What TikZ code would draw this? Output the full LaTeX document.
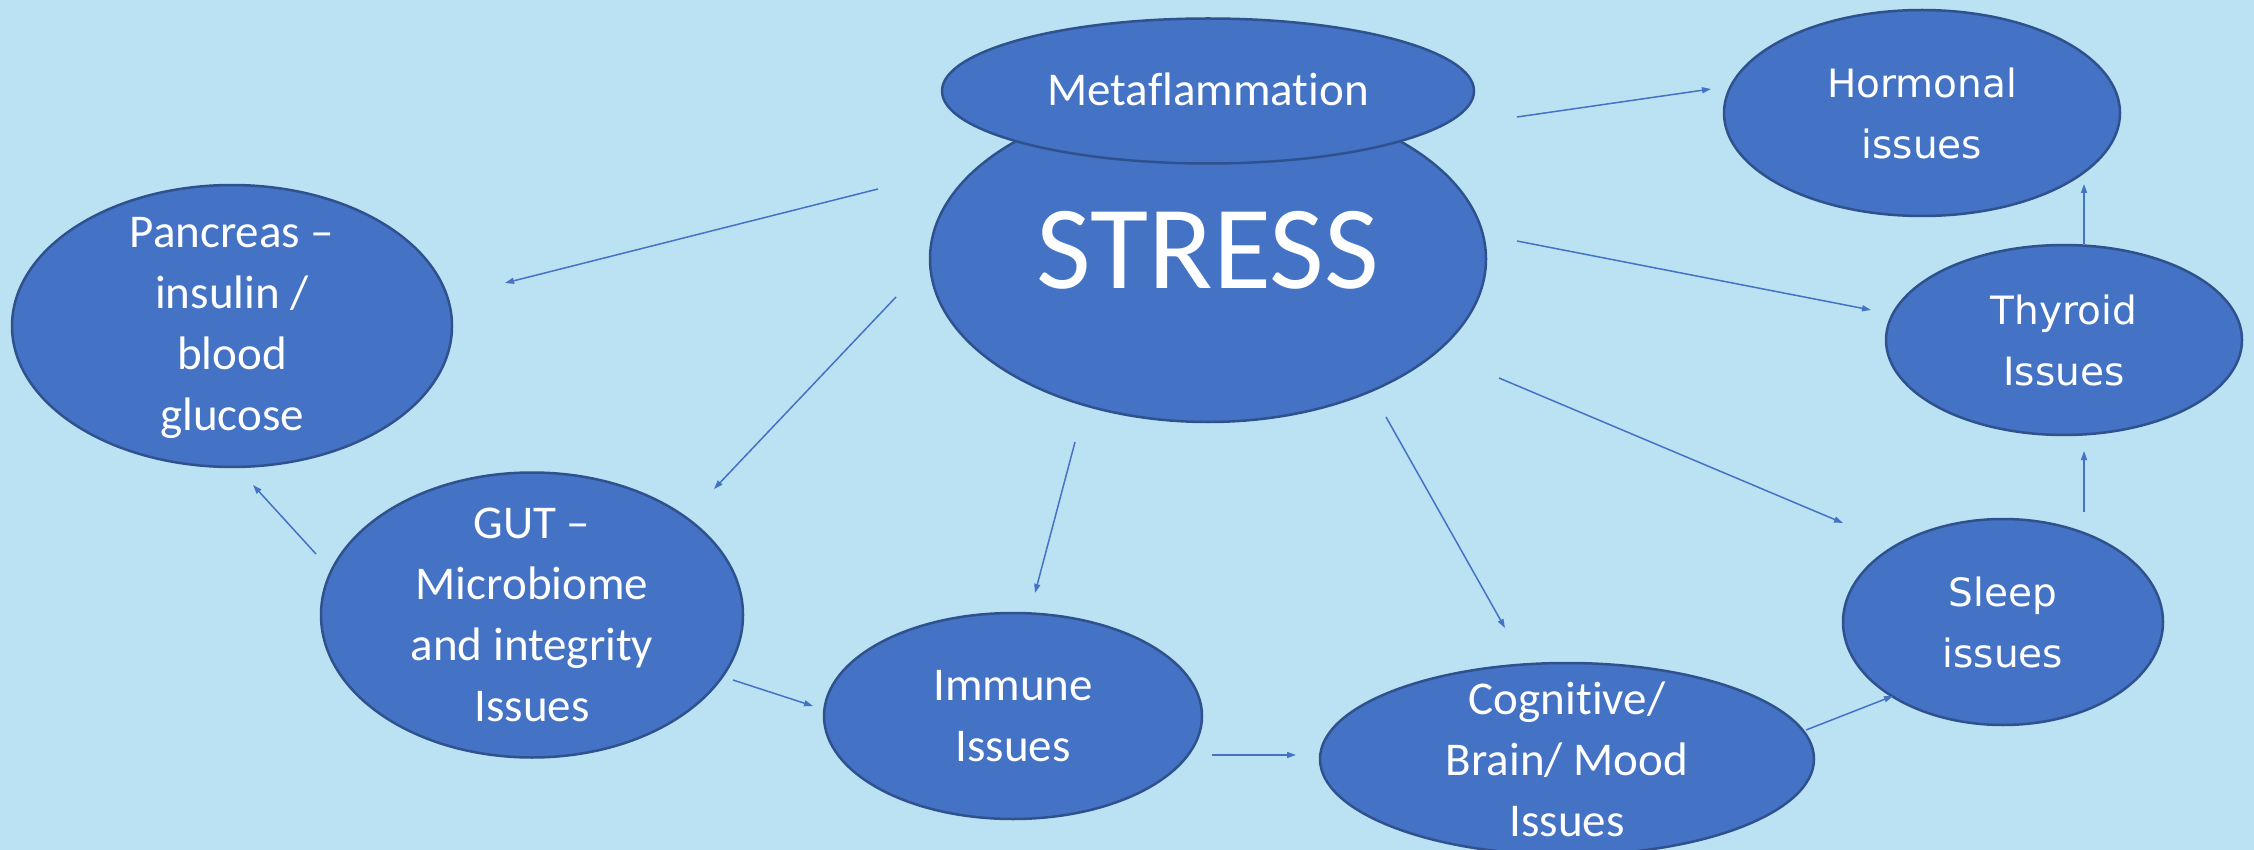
\documentclass[tikz,border=0pt]{standalone}
\usepackage{fontspec}
\setmainfont{Carlito}[Ligatures=NoCommon]
\newfontfamily\verd{DejaVu Sans}
\usetikzlibrary{shapes.geometric,arrows.meta}
\definecolor{bgblue}{RGB}{187,226,242}
\definecolor{nodeblue}{RGB}{68,114,196}
\definecolor{edgeblue}{RGB}{47,82,143}
\begin{document}
\begin{tikzpicture}[x=1pt,y=-1pt,
  blob/.style={ellipse, draw=edgeblue, line width=2.5pt, fill=nodeblue, inner sep=0pt},
  lbl/.style={text=white, align=center, font=\fontsize{47}{61}\selectfont, inner sep=0pt},
  vlbl/.style={text=white, align=center, font=\verd\fontsize{39}{61}\selectfont, inner sep=0pt},
  arr/.style={draw=nodeblue, line width=1.5pt, -{Triangle[length=9pt,width=6pt]}}]
\useasboundingbox (0,0) rectangle (2254,850);
\clip (0,0) rectangle (2254,850);
\fill[bgblue] (0,0) rectangle (2254,850);

% nodes
\node[blob, minimum width=556pt, minimum height=326pt] (stress) at (1208,259) {};
\node[blob, minimum width=532pt, minimum height=145pt] (meta) at (1208,91) {};
\node[blob, minimum width=396pt, minimum height=206pt] (hormonal) at (1922,113) {};
\node[blob, minimum width=356pt, minimum height=190pt] (thyroid) at (2064,340) {};
\node[blob, minimum width=320pt, minimum height=206pt] (sleep) at (2003,622) {};
\node[blob, minimum width=494pt, minimum height=192pt] (cognitive) at (1567,759) {};
\node[blob, minimum width=378pt, minimum height=206pt] (immune) at (1013,716) {};
\node[blob, minimum width=422pt, minimum height=285pt] (gut) at (532,615) {};
\node[blob, minimum width=440pt, minimum height=282pt] (pancreas) at (232,326) {};

% labels
\node[lbl, font=\fontsize{119}{130}\selectfont] (stressT) at (1208,250) {STRESS};
\node[lbl] (metaT) at (1208,89) {Metaflammation};
\node[vlbl] (hormonalT) at (hormonal) {Hormonal\\issues};
\node[vlbl] (thyroidT) at (thyroid) {Thyroid\\Issues};
\node[vlbl] (sleepT) at (sleep) {Sleep\\issues};
\node[lbl] (cognitiveT) at (cognitive) {Cognitive/\\Brain/ Mood\\Issues};
\node[lbl] (immuneT) at (immune) {Immune\\Issues};
\node[lbl] (gutT) at (gut) {GUT --\\Microbiome\\and integrity\\Issues};
\node[lbl] (pancreasT) at (232,328) {Pancreas --\\insulin /\\blood\\glucose};

% connector end points
\coordinate (m2hA) at (1517,117);  \coordinate (m2hB) at (1711,89);
\coordinate (s2tA) at (1517,241);  \coordinate (s2tB) at (1871,310);
\coordinate (s2slA) at (1499,378); \coordinate (s2slB) at (1843,523);
\coordinate (s2cA) at (1386,417);  \coordinate (s2cB) at (1505,628);
\coordinate (s2iA) at (1075,442);  \coordinate (s2iB) at (1035,593);
\coordinate (s2gA) at (896,297);   \coordinate (s2gB) at (714,489);
\coordinate (s2pA) at (878,189);   \coordinate (s2pB) at (505,283);
\coordinate (g2pA) at (316,554);   \coordinate (g2pB) at (253,485);
\coordinate (g2iA) at (733,680);   \coordinate (g2iB) at (813,706);
\coordinate (i2cA) at (1212,755);  \coordinate (i2cB) at (1296,755);
\coordinate (c2slA) at (1806,730); \coordinate (c2slB) at (1893,696);
\coordinate (sl2tA) at (2084,512); \coordinate (sl2tB) at (2084,451);
\coordinate (t2hA) at (2084,244);  \coordinate (t2hB) at (2084,184);

\draw[arr] (m2hA) -- (m2hB);
\draw[arr] (s2tA) -- (s2tB);
\draw[arr] (s2slA) -- (s2slB);
\draw[arr] (s2cA) -- (s2cB);
\draw[arr] (s2iA) -- (s2iB);
\draw[arr] (s2gA) -- (s2gB);
\draw[arr] (s2pA) -- (s2pB);
\draw[arr] (g2pA) -- (g2pB);
\draw[arr] (g2iA) -- (g2iB);
\draw[arr] (i2cA) -- (i2cB);
\draw[arr] (c2slA) -- (c2slB);
\draw[arr] (sl2tA) -- (sl2tB);
\draw[arr] (t2hA) -- (t2hB);
\end{tikzpicture}
\end{document}
